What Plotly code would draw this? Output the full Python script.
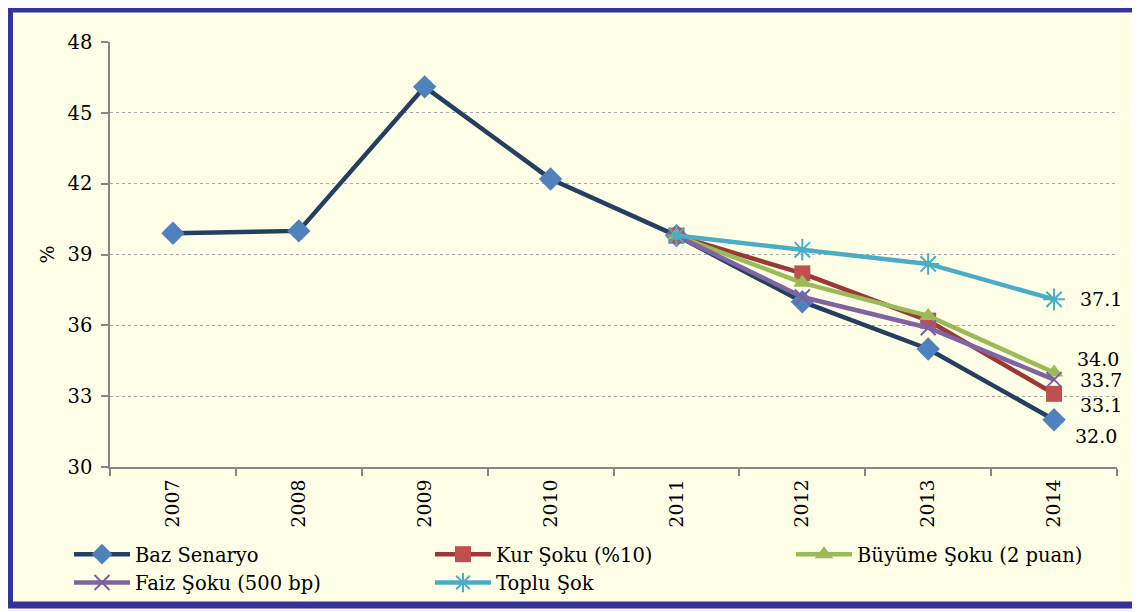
import plotly.graph_objects as go

years = ["2007", "2008", "2009", "2010", "2011", "2012", "2013", "2014"]
shock_years = ["2011", "2012", "2013", "2014"]

baz = [39.9, 40.0, 46.1, 42.2, 39.8, 37.0, 35.0, 32.0]
kur = [39.8, 38.2, 36.2, 33.1]
buyume = [39.8, 37.8, 36.4, 34.0]
faiz = [39.8, 37.2, 35.9, 33.7]
toplu = [39.8, 39.2, 38.6, 37.1]

names = ["Baz Senaryo", "Kur Şoku (%10)", "Büyüme Şoku (2 puan)", "Faiz Şoku (500 bp)", "Toplu Şok"]

FONT = "DejaVu Serif"

series = [
    dict(name=names[0], x=years, y=baz, line="#243F60", mcolor="#4F81BD", symbol="diamond", size=18, lw=0),
    dict(name=names[1], x=shock_years, y=kur, line="#9B3835", mcolor="#C0504D", symbol="square", size=16, lw=0),
    dict(name=names[2], x=shock_years, y=buyume, line="#9BBB59", mcolor="#9BBB59", symbol="triangle-up", size=16, lw=0),
    dict(name=names[3], x=shock_years, y=faiz, line="#8064A2", mcolor="#7D5FA0", symbol="x-thin-open", size=15, lw=2),
    dict(name=names[4], x=shock_years, y=toplu, line="#4BACC6", mcolor="#4BACC6", symbol="asterisk-open", size=18, lw=2),
]

fig = go.Figure()
for s in series:
    fig.add_trace(go.Scatter(
        x=s["x"], y=s["y"], name=s["name"], mode="lines+markers",
        line=dict(color=s["line"], width=4.5),
        marker=dict(symbol=s["symbol"], size=s["size"], color=s["mcolor"],
                    line=dict(color=s["mcolor"], width=s["lw"])),
        cliponaxis=False,
    ))

# page body has an 8px margin: figure is drawn at (8, 8) in the window
OFF = 8
FW, FH = 1140 - OFF, 612 - OFF
# plot area in window px: l=110, r=1117, t=42, b=467
L, R, T, B = 110 - OFF, 1117 - OFF, 42 - OFF, 467 - OFF
W, H = R - L, B - T
def px(xp):
    return (xp - OFF - L) / W
def py(yp):
    return (B - (yp - OFF)) / H

# end-of-line value labels (2014)
label_offsets = [(42, -16), (47, -11), (44, 14), (47, 0), (47, 0)]
for s, (dx, dy) in zip(series, label_offsets):
    fig.add_annotation(
        xref="x", yref="y",
        x=years.index(s["x"][-1]), y=s["y"][-1], text=f"{s['y'][-1]:.1f}",
        showarrow=False, xshift=dx, yshift=dy,
        font=dict(family=FONT, size=19, color="#000000"),
    )

fig.add_shape(type="rect", xref="paper", yref="paper",
              x0=px(9.5), x1=px(1135.5), y0=py(9), y1=py(605),
              line=dict(color="#333399", width=7), fillcolor="#FFFFE8", layer="below")

fig.update_layout(
    width=FW, height=FH,
    margin=dict(l=L, r=FW - R, t=T, b=FH - B, autoexpand=False),
    paper_bgcolor="#F7F7FB",
    plot_bgcolor="rgba(0,0,0,0)",
    font=dict(family=FONT, size=19, color="#000000"),
    showlegend=True,
    legend=dict(
        orientation="h", x=px(69), y=py(535), xanchor="left", yanchor="top",
        entrywidth=290, entrywidthmode="pixels",
        font=dict(family=FONT, size=19.5, color="#000000"),
        bgcolor="rgba(0,0,0,0)", tracegroupgap=0, itemwidth=56,
    ),
    xaxis=dict(
        type="category", categoryorder="array", categoryarray=years,
        range=[-0.5, 7.5], showgrid=False, showline=True,
        linecolor="#868686", linewidth=1.5,
        ticks="outside", ticklen=7, tickcolor="#868686", tickwidth=1.5,
        tickson="boundaries", tickangle=-90, ticklabelstandoff=3,
        tickfont=dict(family=FONT, size=19, color="#000000"),
        zeroline=False,
    ),
    yaxis=dict(
        range=[30, 48], dtick=3, tick0=30,
        showgrid=True, gridcolor="#A6A6A6", griddash="dot", gridwidth=1,
        showline=True, linecolor="#868686", linewidth=1.5,
        ticks="outside", ticklen=7, tickcolor="#868686", tickwidth=1.5,
        ticklabelstandoff=5,
        tickfont=dict(family=FONT, size=19.5, color="#000000"),
        title=dict(text="%", font=dict(family=FONT, size=19, color="#000000"), standoff=8),
        zeroline=False,
    ),
)

fig.write_html("out.html")
